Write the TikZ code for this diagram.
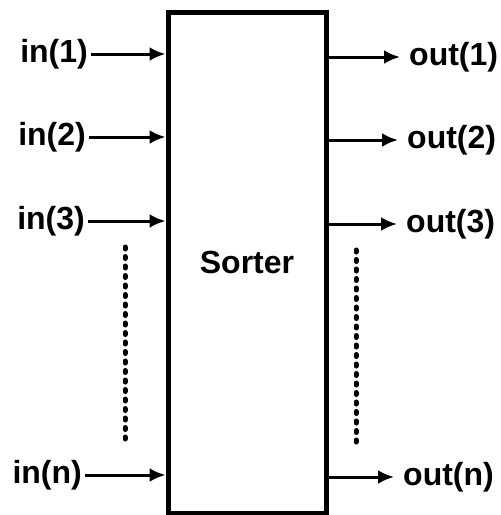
\documentclass[tikz,border=0pt]{standalone}
\usepackage{fontspec}
\setmainfont{Liberation Sans}
\usetikzlibrary{arrows.meta}

\tikzset{
  lbl/.style={font=\fontsize{32}{36}\selectfont\bfseries, inner xsep=3pt, inner ysep=0pt},
  wire/.style={line width=3pt, -{Latex[length=16pt,width=14pt]}},
  dotline/.style={line width=5pt, line cap=round, dash pattern=on 2pt off 7.5pt},
}

\begin{document}
\begin{tikzpicture}[x=1pt, y=-1pt]
\useasboundingbox (0,0) rectangle (501,515);
\node[draw, line width=5pt, minimum width=158pt, minimum height=501pt, lbl] (sorter) at (247,262.5) {Sorter};
% inputs
\node[lbl, anchor=east] (in1) at (91,54) {in(1)};
\node[lbl, anchor=east] (in2) at (89,137) {in(2)};
\node[lbl, anchor=east] (in3) at (88,221) {in(3)};
\node[lbl, anchor=east] (inn) at (85,475) {in(n)};
\draw[wire] (in1.east) -- (in1.east -| sorter.west);
\draw[wire] (in2.east) -- (in2.east -| sorter.west);
\draw[wire] (in3.east) -- (in3.east -| sorter.west);
\draw[wire] (inn.east) -- (inn.east -| sorter.west);
% outputs
\node[lbl, anchor=west] (out1) at (406,57) {out(1)};
\node[lbl, anchor=west] (out2) at (404,140) {out(2)};
\node[lbl, anchor=west] (out3) at (403,224) {out(3)};
\node[lbl, anchor=west] (outn) at (400,477) {out(n)};
\draw[wire, shorten >=6pt] (out1.west -| sorter.east) -- (out1.west);
\draw[wire, shorten >=6pt] (out2.west -| sorter.east) -- (out2.west);
\draw[wire, shorten >=6pt] (out3.west -| sorter.east) -- (out3.west);
\draw[wire, shorten >=6pt] (outn.west -| sorter.east) -- (outn.west);
% dots
\draw[dotline] (125,247) -- (125,443);
\draw[dotline] (356,250) -- (356,446);
\end{tikzpicture}
\end{document}
